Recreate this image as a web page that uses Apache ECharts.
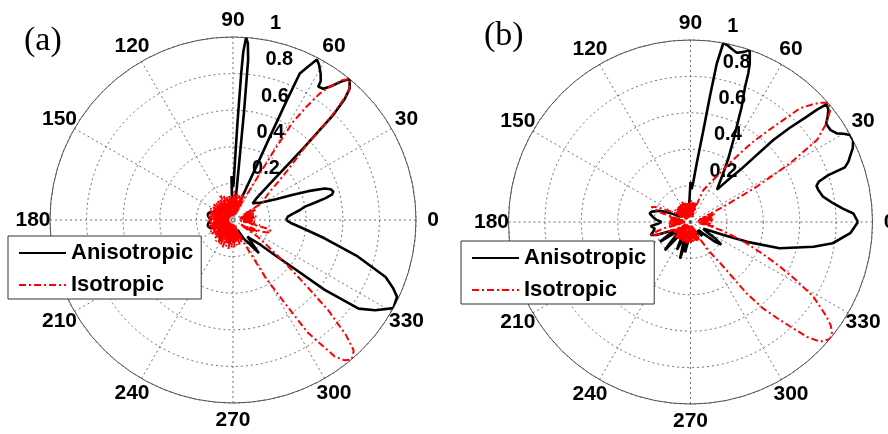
<!DOCTYPE html>
<html>
<head>
<meta charset="utf-8">
<script src="https://cdn.jsdelivr.net/npm/echarts@6/dist/echarts.min.js"></script>
<style>
  html, body { margin: 0; padding: 0; background: #ffffff; }
  #chart { width: 888px; height: 434px; }
</style>
</head>
<body>
<div id="chart"></div>
<script>
// Radiation patterns, [angle in degrees, normalised amplitude]
const seriesNames = ['Anisotropic', 'Isotropic'];
const panelLabels = ['(a)', '(b)'];
const radiusTicks = [0, 0.2, 0.4, 0.6, 0.8, 1];
const angleStep = 30;

const anisoA = [
  [0,0.29],[3.4,0.30],[6,0.33],[8.5,0.37],[10.5,0.40],[12,0.46],[13.3,0.52],[14.5,0.56],[15.8,0.57],[17.5,0.56],
  [19,0.53],[21,0.44],[23,0.35],[26,0.26],[30,0.2],[33,0.17],[36,0.16],[40,0.14],[43,0.18],[44.5,0.28],
  [45.6,0.55],[46.3,0.79],[47.3,0.9],[48.4,0.96],[50.4,1.0],[52,0.96],[54,0.9],[55.5,0.87],[57.4,0.865],[57.8,0.9],
  [59,0.93],[61,0.97],[62.4,0.99],[64,0.93],[65.5,0.88],[65.8,0.7],[66.1,0.5],[66.5,0.3],[67.5,0.18],[70,0.1],
  [73,0.06],[76,0.09],[79,0.05],[82,0.1],[83,0.14],[83.8,0.3],[84.2,0.6],[84.6,0.88],[85.2,0.97],[85.9,1.0],
  [86.5,0.92],[86.8,0.8],[87.4,0.52],[88.2,0.3],[89,0.2],[90,0.18],[91,0.2],[92,0.24],[93,0.1],[96,0.06],
  [100,0.09],[104,0.04],[108,0.08],[112,0.05],[116,0.1],[120,0.04],[124,0.08],[128,0.05],[132,0.09],[136,0.04],
  [140,0.08],[144,0.05],[148,0.1],[152,0.06],[156,0.1],[160,0.13],[165,0.14],[170,0.14],[175,0.13],[180,0.12],
  [185,0.13],[190,0.14],[195,0.14],[200,0.13],[205,0.1],[210,0.06],[215,0.1],[220,0.05],[225,0.12],[230,0.06],
  [234,0.1],[237,0.14],[240,0.05],[245,0.1],[250,0.04],[255,0.09],[259,0.06],[262,0.13],[265,0.05],[270,0.1],
  [275,0.04],[280,0.08],[285,0.05],[290,0.1],[295,0.06],[300,0.12],[304,0.15],[308,0.23],[311,0.12],[314,0.15],
  [317.4,0.19],[320,0.3],[321.5,0.41],[322.7,0.63],[324.8,0.84],[327.6,0.92],[331.2,1.0],[334.9,0.99],[337,0.95],[339.5,0.89],
  [343.7,0.71],[348.7,0.51],[352.5,0.4],[356.8,0.32],[360,0.29]
];

const isoA = [
  [0,0.1],[1.5,0.04],[3,0.11],[4.5,0.05],[6,0.12],[7.5,0.06],[9,0.13],[10.5,0.04],[12,0.12],[13.5,0.06],
  [15,0.1],[16.5,0.03],[18,0.12],[19.5,0.05],[21,0.11],[22.5,0.07],[24,0.14],[25.5,0.06],[27,0.13],[28.5,0.08],
  [30,0.17],[31.5,0.19],[34,0.21],[37.4,0.25],[40,0.32],[42,0.39],[44,0.48],[45.5,0.57],
  [46.4,0.77],[47.2,0.86],[48,0.94],[49.2,0.98],[50.4,1.0],[52,0.97],[54,0.9],[55.5,0.84],[57,0.74],[58.5,0.63],
  [59.3,0.45],[60,0.29],[61,0.18],[63,0.12],
  [64.5,0.04],[66,0.13],[67.5,0.06],[69,0.15],[70.5,0.03],[72,0.11],[73.5,0.05],[75,0.14],[76.5,0.02],[78,0.12],
  [79.5,0.07],[81,0.15],[82.5,0.03],[84,0.1],[85.5,0.05],[87,0.16],[88.5,0.04],[90,0.12],[91.5,0.02],[93,0.13],
  [94.5,0.06],[96,0.11],[97.5,0.03],[99,0.14],[100.5,0.05],[102,0.12],[103.5,0.02],[105,0.13],[106.5,0.07],[108,0.1],
  [109.5,0.03],[111,0.14],[112.5,0.05],[114,0.12],[115.5,0.02],[117,0.15],[118.5,0.06],[120,0.11],[121.5,0.03],[123,0.13],
  [124.5,0.05],[126,0.12],[127.5,0.02],[129,0.14],[130.5,0.06],[132,0.1],[133.5,0.03],[135,0.13],[136.5,0.05],[138,0.12],
  [139.5,0.02],[141,0.14],[142.5,0.07],[144,0.11],[145.5,0.03],[147,0.13],[148.5,0.05],[150,0.12],[151.5,0.02],[153,0.14],
  [154.5,0.06],[156,0.11],[157.5,0.03],[159,0.14],[160.5,0.05],[162,0.12],[163.5,0.02],[165,0.13],[166.5,0.06],[168,0.12],
  [169.5,0.03],[171,0.14],[172.5,0.05],[174,0.11],[175.5,0.02],[177,0.13],[178.5,0.07],[180,0.12],[181.5,0.03],[183,0.14],
  [184.5,0.05],[186,0.11],[187.5,0.02],[189,0.13],[190.5,0.06],[192,0.12],[193.5,0.03],[195,0.14],[196.5,0.05],[198,0.12],
  [199.5,0.02],[201,0.13],[202.5,0.06],[204,0.11],[205.5,0.03],[207,0.14],[208.5,0.05],[210,0.12],[211.5,0.02],[213,0.14],
  [214.5,0.07],[216,0.11],[217.5,0.03],[219,0.13],[220.5,0.05],[222,0.12],[223.5,0.02],[225,0.14],[226.5,0.06],[228,0.12],
  [229.5,0.03],[231,0.15],[232.5,0.05],[234,0.12],[235.5,0.02],[237,0.15],[238.5,0.07],[240,0.13],[241.5,0.03],[243,0.15],
  [244.5,0.05],[246,0.12],[247.5,0.02],[249,0.16],[250.5,0.06],[252,0.13],[253.5,0.03],[255,0.15],[256.5,0.05],[258,0.13],
  [259.5,0.02],[261,0.16],[262.5,0.07],[264,0.12],[265.5,0.03],[267,0.15],[268.5,0.05],[270,0.13],[271.5,0.02],[273,0.15],
  [274.5,0.06],[276,0.12],[277.5,0.03],[279,0.14],[280.5,0.05],[282,0.12],[283.5,0.02],[285,0.14],[286.5,0.06],[288,0.11],
  [289.5,0.03],[291,0.13],[292.5,0.07],
  [295,0.12],[297,0.18],[299.4,0.36],[302,0.54],[303.6,0.74],[306.7,0.93],[308.5,0.98],[310.3,1.0],[311.5,0.99],[312.8,0.97],
  [314.5,0.88],[316.5,0.72],[318,0.55],[319.6,0.42],[321,0.33],[323,0.24],[326,0.16],[327.5,0.06],[329,0.12],[330.5,0.05],
  [332,0.13],[333.5,0.08],[335,0.15],[336.5,0.1],[338,0.17],[340,0.2],[343,0.22],[346,0.2],[347.5,0.1],[349,0.15],
  [350.5,0.05],[352,0.12],[353.5,0.04],[355,0.12],[356.5,0.05],[358,0.11],[360,0.1]
];

const anisoB = [
  [0,0.92],[3,0.896],[5,0.84],[7.5,0.79],[11,0.74],[14,0.724],[16,0.72],[17.5,0.74],[18.8,0.8],[19.5,0.9],
  [21,0.93],[22.3,0.947],[24.5,0.98],[26.7,1.0],[28.6,0.998],[30,0.97],[31.2,0.94],[33.4,0.92],[35.9,0.92],[37.5,0.95],
  [39.1,0.976],[40.9,0.99],[41.6,0.93],[42.2,0.86],[43.5,0.75],[44.7,0.64],[46.4,0.39],[48.5,0.3],[50.7,0.23],[53,0.26],
  [56,0.32],[59,0.4],[62.4,0.51],[64.5,0.6],[66,0.69],[68,0.8],[68.8,0.88],[69.5,0.93],[71,1.0],[72.5,0.98],
  [74.7,0.964],[76.2,0.975],[78,0.99],[79.6,1.0],[80.6,0.88],[81.2,0.70],[82,0.51],[84,0.32],[86,0.22],[88,0.18],
  [90,0.22],[92,0.23],[94,0.1],[97,0.05],[100,0.09],[104,0.04],[108,0.08],[112,0.05],[116,0.09],[120,0.04],
  [124,0.08],[128,0.05],[132,0.09],[136,0.04],[140,0.08],[144,0.05],[148,0.09],[152,0.06],[156,0.12],[160,0.18],
  [165,0.22],[168,0.23],[172,0.21],[176,0.19],[180,0.16],[183,0.18],[186,0.22],[190,0.2],[194,0.21],[198,0.23],
  [201,0.2],[204,0.12],[208,0.1],[211,0.15],[213,0.2],[215,0.1],[220,0.08],[225,0.15],[227.7,0.21],[230,0.1],
  [235,0.08],[240,0.1],[244,0.17],[247,0.08],[251,0.12],[254,0.21],[257,0.1],[260,0.17],[262,0.12],[265,0.06],
  [270,0.08],[275,0.05],[280,0.09],[285,0.05],[290,0.08],[295,0.05],[300,0.08],[305,0.06],[310,0.1],[315,0.06],
  [318,0.1],[321,0.17],[323.6,0.21],[326,0.17],[329,0.1],[332,0.08],[335,0.1],[338.4,0.19],[340.7,0.33],[343.6,0.51],
  [348.6,0.69],[351.5,0.79],[356,0.88],[360,0.92]
];

const isoB = [
  [0,0.1],[1.5,0.04],[3,0.12],[4.5,0.05],[6,0.13],[7.5,0.06],[9,0.11],[10.5,0.04],[12,0.13],[13.5,0.06],
  [15,0.12],[16.5,0.05],[18,0.14],[19.5,0.07],[21,0.13],[22.5,0.1],
  [25,0.2],[28,0.41],[30.5,0.635],[33,0.83],[35.9,0.92],[38.5,0.98],[40.9,1.0],[42.5,0.97],[44,0.93],[46.1,0.867],
  [49,0.69],[52,0.56],[54.2,0.465],[57,0.37],[60,0.29],[64,0.23],[68,0.19],[70.5,0.1],
  [72,0.03],[73.5,0.1],[75,0.05],[76.5,0.11],[78,0.02],[79.5,0.09],[81,0.06],[82.5,0.11],[84,0.03],[85.5,0.1],
  [87,0.05],[88.5,0.12],[90,0.02],[91.5,0.1],[93,0.06],[94.5,0.11],[96,0.03],[97.5,0.09],[99,0.05],[100.5,0.11],
  [102,0.02],[103.5,0.1],[105,0.06],[106.5,0.11],[108,0.03],[109.5,0.1],[111,0.05],[112.5,0.12],[114,0.02],[115.5,0.09],
  [117,0.06],[118.5,0.11],[120,0.03],[121.5,0.1],[123,0.05],[124.5,0.11],[126,0.02],[127.5,0.1],[129,0.06],[130.5,0.11],
  [132,0.03],[133.5,0.09],[135,0.05],[136.5,0.11],[138,0.02],[139.5,0.1],[141,0.06],[142.5,0.11],[144,0.03],[145.5,0.1],
  [147,0.05],
  [150,0.08],[151.5,0.12],[153,0.14],[155,0.18],[157,0.21],[159,0.23],[161,0.2],[163,0.16],[164.5,0.06],[166,0.12],
  [167.5,0.04],[169,0.11],[170.5,0.05],[172,0.12],[173.5,0.03],[175,0.11],[176.5,0.06],[178,0.12],[179.5,0.04],[181,0.11],
  [182.5,0.05],[184,0.12],[185.5,0.03],[187,0.11],[188.5,0.06],[190,0.12],[191.5,0.05],[193,0.14],[194.5,0.17],[196,0.2],
  [198.5,0.23],[200,0.21],[202,0.16],[204,0.11],[205.5,0.08],
  [207,0.03],[208.5,0.1],[210,0.05],[211.5,0.11],[213,0.02],[214.5,0.1],[216,0.06],[217.5,0.12],[219,0.03],[220.5,0.1],
  [222,0.05],[223.5,0.11],[225,0.02],[226.5,0.12],[228,0.06],[229.5,0.1],[231,0.03],[232.5,0.11],[234,0.05],[235.5,0.12],
  [237,0.02],[238.5,0.11],[240,0.06],[241.5,0.12],[243,0.03],[244.5,0.1],[246,0.05],[247.5,0.12],[249,0.02],[250.5,0.11],
  [252,0.06],[253.5,0.12],[255,0.03],[256.5,0.11],[258,0.05],[259.5,0.12],[261,0.02],[262.5,0.11],[264,0.06],[265.5,0.12],
  [267,0.03],[268.5,0.11],[270,0.05],[271.5,0.12],[273,0.02],[274.5,0.1],[276,0.06],[277.5,0.11],[279,0.03],[280.5,0.1],
  [282,0.05],[283.5,0.11],[285,0.02],[286.5,0.1],[288,0.06],[289.5,0.11],[291,0.03],[292.5,0.1],[294,0.05],[295.5,0.11],
  [297,0.04],[298.5,0.1],
  [301,0.14],[303,0.2],[306.3,0.3],[308.2,0.5],[310,0.62],[312.4,0.73],[315.4,0.9],[317.3,0.97],[320,1.0],[321.7,0.99],
  [323.5,0.96],[325.2,0.91],[328.7,0.79],[331,0.67],[333.5,0.55],[336,0.44],[339.2,0.33],[342,0.24],[345,0.18],[348,0.1],
  [349.5,0.13],[351,0.05],[352.5,0.11],[354,0.04],[355.5,0.12],[357,0.05],[358.5,0.1],[360,0.1]
];

const FONT = 'Liberation Sans';
const GRID = '#4a4a4a';

const panels = [
  { center: [233, 220], radius: 183, title: { left: 24, top: 24 }, legend: { left: 8, top: 236 }, curves: [anisoA, isoA] },
  { center: [690.5, 222], radius: 182, title: { left: 484, top: 19 }, legend: { left: 461, top: 241 }, curves: [anisoB, isoB] }
];

const polar = [], angleAxis = [], radiusAxis = [], series = [], legend = [], title = [];

panels.forEach(function (p, i) {
  const main = 2 * i, aux = 2 * i + 1;
  polar.push({ center: p.center, radius: p.radius });
  polar.push({ center: p.center, radius: p.radius });

  // angular grid: spokes every 30 degrees, counter-clockwise from the east;
  // a tiny fixed label box keeps each angle label centred just outside the rim
  angleAxis.push({
    polarIndex: main, type: 'value', min: 0, max: 360, interval: angleStep,
    startAngle: 0, clockwise: false,
    axisLine: { show: true, lineStyle: { color: '#555', width: 1 } },
    axisTick: { show: false },
    splitLine: { show: true, lineStyle: { color: GRID, width: 0.8, type: [2, 3] } },
    axisLabel: {
      show: true, margin: 15,
      formatter: function (v) { return v >= 360 ? '' : '{c|' + v + '}'; },
      rich: { c: { width: 4, height: 4, lineHeight: 4, align: 'center', verticalAlign: 'middle',
                   fontSize: 21, fontWeight: 'bold', fontFamily: FONT, color: '#000' } }
    }
  });
  radiusAxis.push({
    polarIndex: main, type: 'value', min: radiusTicks[0], max: radiusTicks[radiusTicks.length - 1], interval: 0.2,
    axisLine: { show: false }, axisTick: { show: false }, axisLabel: { show: false },
    splitLine: { show: true, lineStyle: { color: GRID, width: 0.8, type: [2, 3] } }
  });

  // second frame on the same circle carries the radial tick labels along 83 degrees
  angleAxis.push({ polarIndex: aux, type: 'value', min: 0, max: 360, startAngle: 83, clockwise: false, show: false });
  radiusAxis.push({
    polarIndex: aux, type: 'value', min: radiusTicks[0], max: radiusTicks[radiusTicks.length - 1], interval: 0.2,
    axisLine: { show: false }, axisTick: { show: false }, splitLine: { show: false },
    axisLabel: {
      show: true, margin: -55,
      formatter: function (v) { return v === 0 ? '' : '{r|' + String(+v.toFixed(1)) + '}'; },
      rich: { r: { width: 40, align: 'left', padding: [0, 0, 43, 0],
                   fontSize: 20, fontWeight: 'bold', fontFamily: FONT, color: '#000' } }
    }
  });

  p.curves.forEach(function (curve, k) {
    series.push({
      type: 'line', name: seriesNames[k], coordinateSystem: 'polar', polarIndex: main,
      data: curve.map(function (d) { return [d[1], d[0]]; }),
      symbol: 'none', smooth: false, animation: false,
      lineStyle: k === 0 ? { color: '#000', width: 2.6 } : { color: '#ff0000', width: 2, type: [7, 3, 2, 3] },
      itemStyle: { color: k === 0 ? '#000' : '#ff0000' },
      z: 3 + k
    });
  });

  legend.push({
    data: seriesNames, orient: 'vertical', left: p.legend.left, top: p.legend.top,
    itemWidth: 47, itemHeight: 14, itemGap: 8, padding: [5, 8, 2, 10],
    backgroundColor: '#fff', borderColor: '#333', borderWidth: 1, borderRadius: 0,
    selectedMode: false, itemStyle: { opacity: 0 },
    textStyle: { fontSize: 22, fontWeight: 'bold', fontFamily: FONT, color: '#000', lineHeight: 24 },
    z: 10
  });

  title.push({
    text: panelLabels[i], left: p.title.left, top: p.title.top, padding: 0,
    textStyle: { fontFamily: 'Liberation Serif', fontSize: 34, fontWeight: 'normal', color: '#000' }
  });
});

const chart = echarts.init(document.getElementById('chart'), null, { renderer: 'canvas' });
chart.setOption({ animation: false, backgroundColor: '#fff', title, polar, angleAxis, radiusAxis, legend, series });
</script>
</body>
</html>
